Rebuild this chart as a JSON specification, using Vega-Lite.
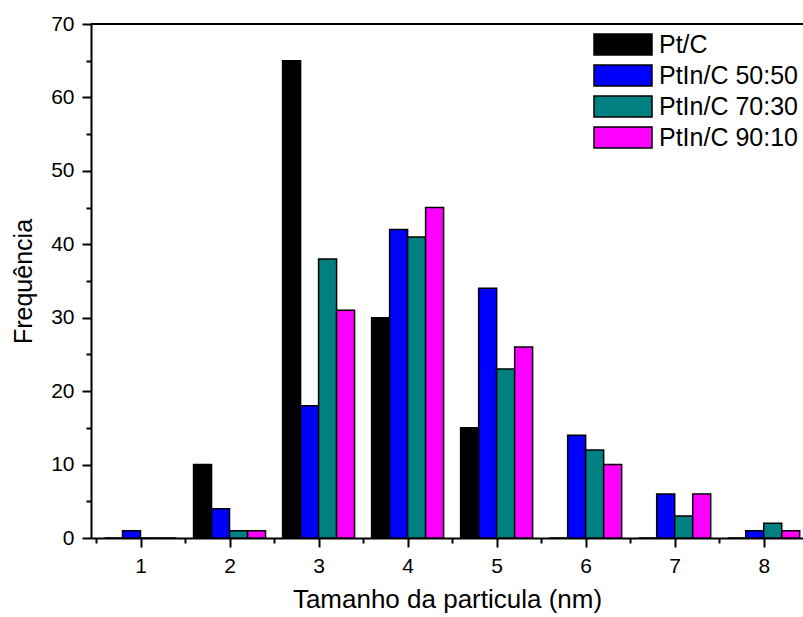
{
  "$schema": "https://vega.github.io/schema/vega-lite/v6.json",
  "width": 712,
  "height": 514,
  "autosize": {"type": "none"},
  "padding": {"left": 91, "top": 24, "right": 0, "bottom": 79},
  "background": "white",
  "config": {
    "view": {"stroke": null},
    "font": "Liberation Sans"
  },
  "data": {
    "values": [
      {"size": 1, "series": "Pt/C", "count": 0},
      {"size": 1, "series": "PtIn/C 50:50", "count": 1},
      {"size": 1, "series": "PtIn/C 70:30", "count": 0},
      {"size": 1, "series": "PtIn/C 90:10", "count": 0},
      {"size": 2, "series": "Pt/C", "count": 10},
      {"size": 2, "series": "PtIn/C 50:50", "count": 4},
      {"size": 2, "series": "PtIn/C 70:30", "count": 1},
      {"size": 2, "series": "PtIn/C 90:10", "count": 1},
      {"size": 3, "series": "Pt/C", "count": 65},
      {"size": 3, "series": "PtIn/C 50:50", "count": 18},
      {"size": 3, "series": "PtIn/C 70:30", "count": 38},
      {"size": 3, "series": "PtIn/C 90:10", "count": 31},
      {"size": 4, "series": "Pt/C", "count": 30},
      {"size": 4, "series": "PtIn/C 50:50", "count": 42},
      {"size": 4, "series": "PtIn/C 70:30", "count": 41},
      {"size": 4, "series": "PtIn/C 90:10", "count": 45},
      {"size": 5, "series": "Pt/C", "count": 15},
      {"size": 5, "series": "PtIn/C 50:50", "count": 34},
      {"size": 5, "series": "PtIn/C 70:30", "count": 23},
      {"size": 5, "series": "PtIn/C 90:10", "count": 26},
      {"size": 6, "series": "Pt/C", "count": 0},
      {"size": 6, "series": "PtIn/C 50:50", "count": 14},
      {"size": 6, "series": "PtIn/C 70:30", "count": 12},
      {"size": 6, "series": "PtIn/C 90:10", "count": 10},
      {"size": 7, "series": "Pt/C", "count": 0},
      {"size": 7, "series": "PtIn/C 50:50", "count": 6},
      {"size": 7, "series": "PtIn/C 70:30", "count": 3},
      {"size": 7, "series": "PtIn/C 90:10", "count": 6},
      {"size": 8, "series": "Pt/C", "count": 0},
      {"size": 8, "series": "PtIn/C 50:50", "count": 1},
      {"size": 8, "series": "PtIn/C 70:30", "count": 2},
      {"size": 8, "series": "PtIn/C 90:10", "count": 1}
    ]
  },
  "encoding": {
    "x": {
      "field": "size",
      "type": "quantitative",
      "scale": {"domain": [0.5, 8.385], "nice": false, "zero": false},
      "axis": {
        "title": "Tamanho da particula (nm)",
        "values": [0.5, 1, 1.5, 2, 2.5, 3, 3.5, 4, 4.5, 5, 5.5, 6, 6.5, 7, 7.5, 8],
        "labelExpr": "datum.value % 1 === 0 ? format(datum.value, 'd') : ''",
        "labelOverlap": false,
        "labelFontSize": 21,
        "labelColor": "black",
        "labelPadding": 8,
        "titleFontSize": 26,
        "titleFontWeight": "normal",
        "titleColor": "black",
        "titlePadding": 10,
        "tickColor": "black",
        "tickWidth": 2,
        "tickSize": {"condition": {"test": "datum.value % 1 !== 0", "value": 5}, "value": 9},
        "domainColor": "black",
        "domainWidth": 2,
        "grid": false
      }
    },
    "y": {
      "field": "count",
      "type": "quantitative",
      "scale": {"domain": [0, 70], "nice": false},
      "axis": {
        "title": "Frequência",
        "values": [0, 5, 10, 15, 20, 25, 30, 35, 40, 45, 50, 55, 60, 65, 70],
        "labelExpr": "datum.value % 10 === 0 ? datum.label : ''",
        "labelOverlap": false,
        "labelFontSize": 21,
        "labelColor": "black",
        "labelPadding": 8,
        "titleFontSize": 25,
        "titleFontWeight": "normal",
        "titleColor": "black",
        "titlePadding": 14,
        "tickColor": "black",
        "tickWidth": 2,
        "tickSize": {"condition": {"test": "datum.value % 10 !== 0", "value": 5}, "value": 9},
        "domainColor": "black",
        "domainWidth": 2,
        "grid": false
      }
    },
    "fill": {
      "field": "series",
      "type": "nominal",
      "scale": {
        "domain": ["Pt/C", "PtIn/C 50:50", "PtIn/C 70:30", "PtIn/C 90:10"],
        "range": ["#000000", "#0000ff", "#008080", "#ff00ff"]
      },
      "legend": {
        "title": null,
        "orient": "none",
        "legendX": 502,
        "legendY": 6,
        "labelFontSize": 25,
        "labelColor": "black",
        "labelOffset": 6,
        "symbolType": "M-1,-0.362H1V0.362H-1Z",
        "symbolSize": 3364,
        "symbolStrokeColor": "black",
        "symbolStrokeWidth": 1.5,
        "symbolOpacity": 1,
        "clipHeight": 29,
        "rowPadding": 2
      }
    }
  },
  "layer": [
    {
      "transform": [{"filter": "datum.series === 'Pt/C'"}],
      "mark": {"type": "bar", "width": 18, "xOffset": -27, "stroke": "black", "strokeWidth": 1.5, "clip": true}
    },
    {
      "transform": [{"filter": "datum.series === 'PtIn/C 50:50'"}],
      "mark": {"type": "bar", "width": 18, "xOffset": -9, "stroke": "black", "strokeWidth": 1.5, "clip": true}
    },
    {
      "transform": [{"filter": "datum.series === 'PtIn/C 70:30'"}],
      "mark": {"type": "bar", "width": 18, "xOffset": 9, "stroke": "black", "strokeWidth": 1.5, "clip": true}
    },
    {
      "transform": [{"filter": "datum.series === 'PtIn/C 90:10'"}],
      "mark": {"type": "bar", "width": 18, "xOffset": 27, "stroke": "black", "strokeWidth": 1.5, "clip": true}
    },
    {
      "mark": {"type": "rule", "color": "black", "strokeWidth": 2},
      "encoding": {"y": {"datum": 70, "type": "quantitative"}, "x": null, "fill": null}
    }
  ]
}
